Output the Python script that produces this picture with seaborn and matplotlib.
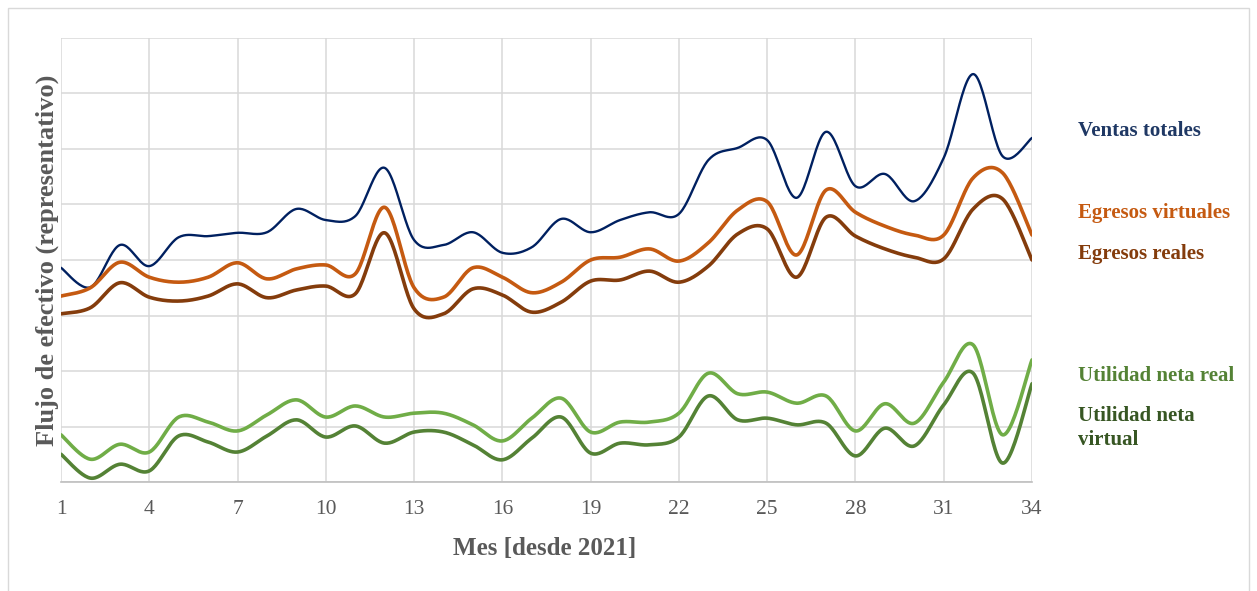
import numpy as np
import pandas as pd
import matplotlib
matplotlib.use("Agg")
import matplotlib.pyplot as plt
from matplotlib.patches import Rectangle
import seaborn as sns

# Monthly cash-flow series (representative units)
meses = list(range(1, 35))
ventas_totales = [38.6, 35.1, 42.7, 38.9, 44.1, 44.3, 44.9, 45.0, 49.2, 47.2, 47.9, 56.6,
                  43.6, 42.7, 45.0, 41.3, 42.3, 47.4, 45.0, 47.2, 48.6, 48.3, 58.0, 60.2,
                  61.6, 51.2, 63.1, 53.3, 55.5, 50.6, 58.4, 73.5, 58.7, 62.0]
egresos_virtuales = [33.5, 35.0, 39.6, 36.9, 36.0, 36.9, 39.5, 36.6, 38.4, 39.1, 37.5, 49.5,
                     35.0, 33.3, 38.6, 36.9, 34.1, 36.0, 40.0, 40.5, 42.0, 39.8, 43.1, 49.0,
                     50.5, 40.9, 52.6, 48.6, 46.1, 44.5, 44.5, 54.8, 55.7, 44.5]
egresos_reales = [30.3, 31.4, 35.9, 33.3, 32.6, 33.5, 35.7, 33.2, 34.6, 35.3, 33.9, 44.9,
                  31.2, 30.3, 34.8, 33.7, 30.6, 32.4, 36.2, 36.4, 38.0, 36.0, 38.9, 44.7,
                  45.6, 36.9, 47.7, 44.3, 42.0, 40.5, 40.2, 49.2, 51.0, 40.0]
utilidad_real = [8.5, 4.1, 6.8, 5.4, 11.7, 10.8, 9.2, 12.1, 14.8, 11.7, 13.7, 11.7,
                 12.4, 12.4, 10.3, 7.4, 11.5, 15.1, 9.0, 10.8, 10.8, 12.4, 19.6, 15.9,
                 16.2, 14.2, 15.5, 9.2, 14.1, 10.6, 18.0, 24.7, 8.5, 22.0]
utilidad_virtual = [5.0, 0.7, 3.2, 2.0, 8.3, 7.2, 5.4, 8.3, 11.2, 8.1, 10.1, 7.0,
                    9.0, 9.0, 6.7, 4.0, 7.9, 11.7, 5.2, 7.0, 6.7, 8.1, 15.5, 11.2,
                    11.5, 10.3, 10.6, 4.7, 9.7, 6.5, 13.9, 19.6, 3.4, 17.7]

series = {
    "Ventas totales": ventas_totales,
    "Egresos virtuales": egresos_virtuales,
    "Egresos reales": egresos_reales,
    "Utilidad neta real": utilidad_real,
    "Utilidad neta virtual": utilidad_virtual,
}
line_colors = {
    "Ventas totales": "#002060",
    "Egresos virtuales": "#C55A11",
    "Egresos reales": "#843C0C",
    "Utilidad neta real": "#70AD47",
    "Utilidad neta virtual": "#548235",
}
text_colors = {
    "Ventas totales": "#1F3864",
    "Egresos virtuales": "#C55A11",
    "Egresos reales": "#843C0C",
    "Utilidad neta real": "#548235",
    "Utilidad neta virtual": "#375623",
}
line_widths = {
    "Ventas totales": 1.7,
    "Egresos virtuales": 2.6,
    "Egresos reales": 2.6,
    "Utilidad neta real": 2.6,
    "Utilidad neta virtual": 2.6,
}


def smooth(x, y, steps=24):
    """Smoothed line through every point (Catmull-Rom / Bezier style)."""
    x = np.asarray(x, float)
    y = np.asarray(y, float)
    px = np.concatenate([[x[0]], x, [x[-1]]])
    py = np.concatenate([[y[0]], y, [y[-1]]])
    xs, ys = [], []
    t = np.linspace(0, 1, steps, endpoint=False)
    for i in range(1, len(px) - 2):
        p0, p1, p2, p3 = (np.array([px[j], py[j]]) for j in (i - 1, i, i + 1, i + 2))
        b1 = p1 + (p2 - p0) / 6.0
        b2 = p2 - (p3 - p1) / 6.0
        pts = (((1 - t) ** 3)[:, None] * p1 + (3 * (1 - t) ** 2 * t)[:, None] * b1
               + (3 * (1 - t) * t ** 2)[:, None] * b2 + (t ** 3)[:, None] * p2)
        xs.append(pts[:, 0])
        ys.append(pts[:, 1])
    xs.append([x[-1]])
    ys.append([y[-1]])
    return np.concatenate(xs), np.concatenate(ys)


frames = []
for name, vals in series.items():
    sx, sy = smooth(meses, vals)
    frames.append(pd.DataFrame({"mes": sx, "valor": sy, "serie": name}))
df = pd.concat(frames, ignore_index=True)

sns.set_theme(style="white")
plt.rcParams["font.family"] = ["Liberation Serif", "DejaVu Serif"]

fig = plt.figure(figsize=(12.57, 5.91), dpi=100)
ax = fig.add_axes([61 / 1257, 1 - 482 / 591, (1032 - 61) / 1257, (482 - 38) / 591])

for name in series:
    sub = df[df["serie"] == name]
    sns.lineplot(data=sub, x="mes", y="valor", sort=False, ax=ax,
                 color=line_colors[name], linewidth=line_widths[name], legend=False)

ax.set_xlim(1, 34)
ax.set_ylim(0, 80)
ax.set_xticks(meses[::3])
ax.set_yticks(np.arange(0, 81, 10))
ax.set_yticklabels([])
ax.grid(True, color="#D9D9D9", linewidth=1.1)
ax.tick_params(axis="x", length=0, labelsize=15.5, labelcolor="#595959", pad=13)
ax.tick_params(axis="y", length=0)
for side in ("top", "right", "left"):
    ax.spines[side].set_visible(False)
ax.spines["bottom"].set_color("#BFBFBF")
ax.spines["bottom"].set_linewidth(1.2)
ax.set_axisbelow(True)

ax.set_xlabel("")
ax.set_ylabel("")
fig.text(545 / 1257, 1 - 548 / 591, "Mes [desde 2021]", ha="center", va="center",
         fontsize=18, fontweight="bold", color="#595959")
fig.text(47 / 1257, 1 - 260 / 591, "Flujo de efectivo (representativo)", ha="center", va="center",
         rotation=90, fontsize=19, fontweight="bold", color="#595959")

label_pos = {
    "Ventas totales": 131,
    "Egresos virtuales": 213,
    "Egresos reales": 254,
    "Utilidad neta real": 376,
    "Utilidad neta virtual": 428,
}
label_text = {
    "Utilidad neta virtual": "Utilidad neta\nvirtual",
}
for name, py in label_pos.items():
    fig.text(1078 / 1257, 1 - py / 591, label_text.get(name, name), ha="left", va="center",
             fontsize=15, fontweight="bold", color=text_colors[name], linespacing=1.25)

# Light frame around the chart area
fig.patches.append(Rectangle((8 / 1257, -0.01), (1249 - 8) / 1257, 1 - 8 / 591 + 0.01,
                             transform=fig.transFigure, fill=False,
                             edgecolor="#D9D9D9", linewidth=1.0))

fig.savefig("out.png", dpi=100)
